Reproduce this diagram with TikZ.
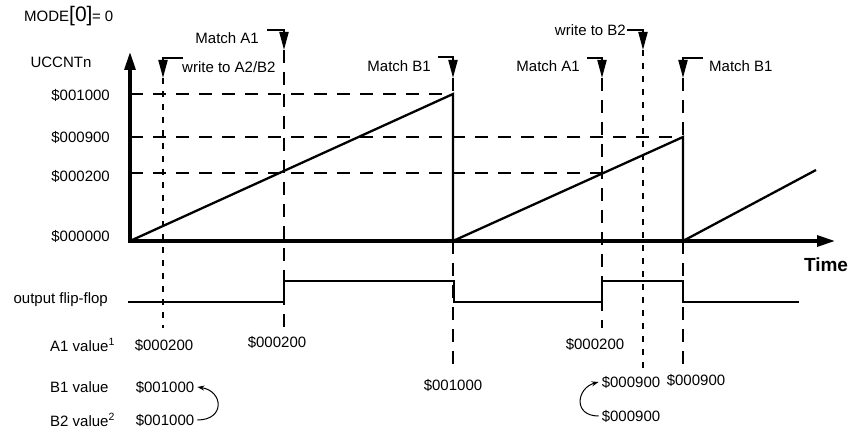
\documentclass[tikz,border=0pt]{standalone}
\usepackage{fontspec}
\setmainfont{Liberation Sans}
\usetikzlibrary{arrows.meta}
\begin{document}
\begin{tikzpicture}[x=1pt,y=-1pt,
  lbl/.style={inner sep=0pt, font=\fontsize{15}{17}\selectfont},
  axis/.style={line width=3.2pt, -{Triangle[length=18pt,width=11pt]}},
  ramp/.style={line width=2.3pt},
  ff/.style={line width=2pt},
  hdash/.style={line width=2pt, dash pattern=on 13pt off 10pt},
  ldash/.style={line width=2pt, dash pattern=on 13pt off 9pt},
  sdash/.style={line width=2pt, dash pattern=on 6pt off 7pt},
  marker/.style={line width=2pt, -{Triangle[length=18pt,width=9pt]}},
  curv/.style={line width=1pt, -{Stealth[length=7pt,width=5pt]}}
]
\useasboundingbox (0,0) rectangle (852,433);

% axes
\coordinate (O) at (130,241);
\coordinate (ytop) at (130,52);
\coordinate (xend) at (835,241);
% levels
\coordinate (l1000) at (130,94);
\coordinate (l900) at (130,137);
\coordinate (l200) at (130,173);
% ramp points
\coordinate (p1) at (453,94);  \coordinate (b1) at (453,241);
\coordinate (p2) at (683,137); \coordinate (b2) at (683,241);
\coordinate (p3) at (816,170);
\coordinate (q200) at (602,173);

% dashed horizontals
\draw[hdash] (l1000) -- (p1);
\draw[hdash] (l900) -- (p2);
\draw[hdash] (l200) -- (q200);

% markers: text, corner, tip, bottom
% write to A2/B2
\node[lbl, anchor=west] (tW1) at (182,67) {write to A2/B2};
\coordinate (sW1) at (183,58); \coordinate (cW1) at (163,58); \coordinate (kW1) at (163,78); \coordinate (eW1) at (163,328);
\draw[marker] (sW1) -- (cW1) -- (kW1);
\draw[sdash] (kW1) -- (eW1);
% Match A1 (first)
\node[lbl, anchor=east] (tA1) at (259,38) {Match A1};
\coordinate (sA1) at (267,30); \coordinate (cA1) at (284,30); \coordinate (kA1) at (284,50); \coordinate (eA1) at (284,328);
\draw[marker] (sA1) -- (cA1) -- (kA1);
\draw[ldash] (kA1) -- (eA1);
% Match B1 (first)
\node[lbl, anchor=east] (tB1) at (431,66) {Match B1};
\coordinate (sB1) at (438,57); \coordinate (cB1) at (453,57); \coordinate (kB1) at (453,78); \coordinate (eB1) at (453,372);
\draw[marker] (sB1) -- (cB1) -- (kB1);
\draw[ldash] (kB1) -- (p1);
\draw[ldash] (b1) -- (eB1);
% Match A1 (second)
\node[lbl, anchor=east] (tA2) at (580,66) {Match A1};
\coordinate (sA2) at (587,58); \coordinate (cA2) at (602,58); \coordinate (kA2) at (602,78); \coordinate (eA2) at (602,328);
\draw[marker] (sA2) -- (cA2) -- (kA2);
\draw[ldash] (kA2) -- (eA2);
% write to B2
\node[lbl, anchor=east] (tW2) at (626,30) {write to B2};
\coordinate (sW2) at (627,30); \coordinate (cW2) at (643,30); \coordinate (kW2) at (643,50); \coordinate (eW2) at (643,368);
\draw[marker] (sW2) -- (cW2) -- (kW2);
\draw[sdash] (kW2) -- (eW2);
% Match B1 (second)
\node[lbl, anchor=west] (tB2) at (709,66) {Match B1};
\coordinate (sB2) at (703,58); \coordinate (cB2) at (683,58); \coordinate (kB2) at (683,78); \coordinate (eB2) at (683,368);
\draw[marker] (sB2) -- (cB2) -- (kB2);
\draw[ldash] (kB2) -- (p2);
\draw[ldash] (b2) -- (eB2);

% ramps
\draw[ramp] (O) -- (p1) -- (b1) -- (p2) -- (b2) -- (p3);
% axes
\draw[axis] (O) -- (ytop);
\draw[axis] ([xshift=-1.6pt]O) -- (xend);

% flip-flop
\draw[ff] (128,302) -- (284,302) -- (284,281) -- (454,281) -- (454,302)
  -- (602,302) -- (602,281) -- (683,281) -- (683,302) -- (799,302);

% left labels
\node[lbl, anchor=west] (mode) at (24,16) {MODE{\fontsize{21}{21}\selectfont[0]}\kern-0.5pt= 0};
\node[lbl] (ucc) at (61,62) {UCCNTn};
\node[lbl, anchor=east] (v1000) at (110,95) {\$001000};
\node[lbl, anchor=east] (v900) at (110,137) {\$000900};
\node[lbl, anchor=east] (v200) at (110,176) {\$000200};
\node[lbl, anchor=east] (v000) at (110,236) {\$000000};
\node[lbl, anchor=east] (off) at (108,300) {output flip-flop};
\node[lbl, anchor=west] (a1v) at (50,345) {A1 value\textsuperscript{1}};
\node[lbl, anchor=west] (b1v) at (50,387) {B1 value};
\node[lbl, anchor=west] (b2v) at (50,420) {B2 value\textsuperscript{2}};
\node[font=\fontsize{19}{21}\selectfont\bfseries, inner sep=0pt] (time) at (826,265) {Time};

% values
\node[lbl] (a1a) at (164,345) {\$000200};
\node[lbl] (a1b) at (277,342) {\$000200};
\node[lbl] (a1c) at (595,344) {\$000200};
\node[lbl] (b1a) at (165,387) {\$001000};
\node[lbl] (b2a) at (165,420) {\$001000};
\node[lbl] (b1b) at (453,385) {\$001000};
\node[lbl] (b1c) at (631,382) {\$000900};
\node[lbl] (b1d) at (696,380) {\$000900};
\node[lbl] (b2c) at (631,416) {\$000900};

% curved arrows
\draw[curv] ([xshift=3pt]b2a.east) .. controls +(28,0) and +(26,4) .. ([xshift=3pt]b1a.east);
\draw[curv] ([xshift=-3pt]b2c.west) .. controls +(-26,0) and +(-22,6) .. ([xshift=-3pt]b1c.west);
\end{tikzpicture}
\end{document}
